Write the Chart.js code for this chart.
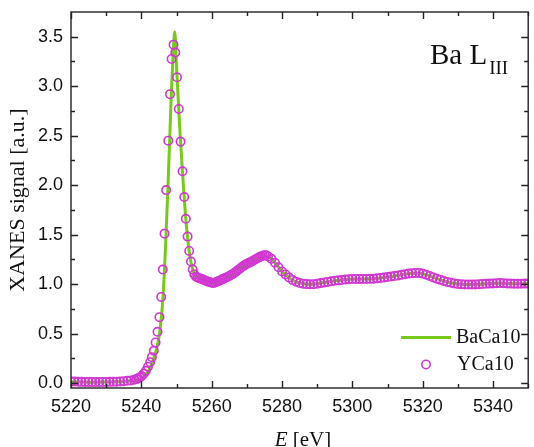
<!DOCTYPE html>
<html>
<head>
<meta charset="utf-8">
<script src="https://cdn.jsdelivr.net/npm/chart.js@4.4.0/dist/chart.umd.min.js"></script>
<style>
html, body { margin: 0; padding: 0; background: #fff; overflow: hidden; }
#wrap { position: relative; width: 534px; height: 447px; }
</style>
</head>
<body>
<div id="wrap"><canvas id="chart" width="534" height="447"></canvas></div>
<script>
// YCa10 (open circles)
const energyYCa = [
  5220, 5221, 5222, 5223, 5224, 5225, 5226, 5227, 5228, 5229, 5230, 5231, 5232, 5233, 5234, 5235, 5236,
  5237, 5238, 5238.6, 5239.1, 5239.6, 5240.1, 5240.7, 5241.3, 5241.9, 5242.5, 5243.0, 5243.55, 5244.05,
  5244.6, 5245.15, 5245.65, 5246.1, 5246.6, 5247.05, 5247.65, 5248.15, 5248.6, 5249.15, 5249.65, 5250.15,
  5250.65, 5251.15, 5251.7, 5252.2, 5252.65, 5253.15, 5253.6, 5254.1, 5254.6, 5255.05, 5255.55,
  5256, 5256.5, 5257, 5257.5, 5258, 5258.5, 5259, 5259.5, 5260, 5260.5, 5261, 5261.5, 5262, 5262.5,
  5263, 5263.5, 5264, 5264.5, 5265, 5265.5, 5266, 5266.5, 5267, 5267.5, 5268, 5268.5, 5269, 5269.5,
  5270, 5270.5, 5271, 5271.5, 5272, 5272.5, 5273, 5273.5, 5274, 5274.5, 5275, 5275.5, 5276,
  5277, 5278, 5279, 5280, 5281, 5282, 5283, 5284, 5285, 5286, 5287, 5288, 5289, 5290,
  5291, 5292, 5293, 5294, 5295, 5296, 5297, 5298, 5299, 5300, 5301, 5302, 5303, 5304, 5305,
  5306, 5307, 5308, 5309, 5310, 5311, 5312, 5313, 5314, 5315, 5316, 5317, 5318, 5319, 5320,
  5321, 5322, 5323, 5324, 5325, 5326, 5327, 5328, 5329, 5330, 5331, 5332, 5333, 5334, 5335,
  5336, 5337, 5338, 5339, 5340, 5341, 5342, 5343, 5344, 5345, 5346, 5347, 5348, 5349, 5350
];
const signalYCa = [
  0.016, 0.015, 0.013, 0.012, 0.011, 0.010, 0.010, 0.010, 0.010, 0.011, 0.011, 0.012, 0.013, 0.014, 0.016, 0.019, 0.023,
  0.027, 0.033, 0.040, 0.048, 0.058, 0.071, 0.095, 0.124, 0.165, 0.210, 0.262, 0.326, 0.410,
  0.518, 0.666, 0.870, 1.147, 1.510, 1.950, 2.450, 2.920, 3.275, 3.420, 3.340, 3.090,
  2.770, 2.440, 2.140, 1.880, 1.660, 1.480, 1.335, 1.228, 1.147, 1.100, 1.075,
  1.066, 1.060, 1.054, 1.047, 1.040, 1.032, 1.025, 1.018, 1.013, 1.012, 1.017, 1.025, 1.032, 1.040,
  1.048, 1.056, 1.064, 1.073, 1.082, 1.092, 1.103, 1.115, 1.128, 1.142, 1.156, 1.170, 1.183, 1.195,
  1.205, 1.214, 1.222, 1.231, 1.241, 1.251, 1.261, 1.271, 1.280, 1.287, 1.292, 1.291, 1.280,
  1.255, 1.215, 1.170, 1.128, 1.097, 1.066, 1.042, 1.025, 1.012, 1.004, 1.000, 0.998, 0.999, 1.004,
  1.010, 1.016, 1.022, 1.028, 1.034, 1.038, 1.042, 1.046, 1.049, 1.051, 1.052, 1.052, 1.052, 1.052, 1.053,
  1.055, 1.058, 1.062, 1.066, 1.071, 1.076, 1.082, 1.088, 1.094, 1.100, 1.106, 1.110, 1.113, 1.112, 1.106,
  1.095, 1.082, 1.068, 1.055, 1.043, 1.032, 1.022, 1.014, 1.007, 1.002, 0.999, 0.997, 0.996, 0.996, 0.997,
  0.999, 1.001, 1.003, 1.005, 1.007, 1.009, 1.010, 1.009, 1.007, 1.005, 1.004, 1.004, 1.004, 1.005, 1.005
];

// BaCa10 (green line)
const energyBa = [
  5220, 5221, 5222, 5223, 5224, 5225, 5226, 5227, 5228, 5229, 5230, 5231, 5232, 5233, 5234, 5235, 5236,
  5237, 5238, 5239, 5240, 5240.5, 5241, 5241.5, 5242, 5242.5, 5243, 5243.5, 5244, 5244.5, 5245, 5245.5,
  5246, 5246.5, 5247, 5247.5, 5248, 5248.5, 5249, 5249.5, 5250, 5250.5, 5251, 5251.5, 5252, 5252.5,
  5253, 5253.5, 5254, 5254.5, 5255, 5255.5, 5256, 5257, 5258, 5259, 5260, 5261, 5262, 5263, 5264,
  5265, 5266, 5267, 5268, 5269, 5270, 5271, 5272, 5273, 5274, 5275, 5276, 5277, 5278, 5279, 5280,
  5281, 5282, 5283, 5284, 5285, 5286, 5287, 5288, 5289, 5290, 5291, 5292, 5293, 5294, 5295, 5296,
  5297, 5298, 5299, 5300, 5302, 5304, 5306, 5308, 5310, 5312, 5314, 5316, 5318, 5319, 5320, 5322,
  5324, 5326, 5328, 5330, 5332, 5334, 5336, 5338, 5340, 5342, 5344, 5346, 5348, 5350
];
const signalBa = [
  0.012, 0.011, 0.010, 0.010, 0.009, 0.009, 0.009, 0.009, 0.009, 0.010, 0.010, 0.011, 0.012, 0.013, 0.014, 0.016, 0.018,
  0.020, 0.024, 0.031, 0.045, 0.058, 0.075, 0.097, 0.124, 0.157, 0.197, 0.245, 0.300, 0.370, 0.460, 0.600,
  0.790, 1.080, 1.480, 1.920, 2.400, 2.900, 3.300, 3.550, 3.200, 2.860, 2.530, 2.250, 1.970, 1.720,
  1.520, 1.360, 1.240, 1.160, 1.110, 1.082, 1.066, 1.050, 1.036, 1.022, 1.014, 1.016, 1.030, 1.046, 1.062,
  1.080, 1.102, 1.128, 1.156, 1.182, 1.204, 1.222, 1.240, 1.260, 1.280, 1.290, 1.278, 1.255, 1.215, 1.170, 1.125,
  1.095, 1.065, 1.040, 1.024, 1.012, 1.004, 1.000, 0.998, 1.000, 1.004, 1.010, 1.016, 1.022, 1.028, 1.034, 1.038,
  1.042, 1.046, 1.049, 1.051, 1.052, 1.052, 1.055, 1.062, 1.071, 1.082, 1.094, 1.106, 1.113, 1.112, 1.106, 1.082,
  1.055, 1.032, 1.014, 1.002, 0.997, 0.996, 0.999, 1.003, 1.007, 1.010, 1.007, 1.004, 1.004, 1.005
];

const xTicks = [5220, 5230, 5240, 5250, 5260, 5270, 5280, 5290, 5300, 5310, 5320, 5330, 5340, 5350];
const xMajor = [5220, 5240, 5260, 5280, 5300, 5320, 5340];
const yTicks = [0, 0.25, 0.5, 0.75, 1, 1.25, 1.5, 1.75, 2, 2.25, 2.5, 2.75, 3, 3.25, 3.5];
const yMajor = [0, 0.5, 1, 1.5, 2, 2.5, 3, 3.5];

const GREEN = '#78c81e';
const MAGENTA = '#d236d2';
const INK = '#111';

const toPoints = (xs, ys) => xs.map((x, i) => ({ x: x, y: ys[i] }));

// frame, inward ticks, x title, label and legend
const decor = {
  id: 'decor',
  afterDraw(chart) {
    const { ctx, chartArea: a, scales: { x, y } } = chart;
    ctx.save();
    ctx.strokeStyle = '#222';
    ctx.lineWidth = 1.4;
    ctx.strokeRect(a.left, a.top, a.right - a.left, a.bottom - a.top);
    ctx.beginPath();
    xTicks.forEach(v => {
      const px = Math.round(x.getPixelForValue(v)) + 0.5;
      const len = xMajor.includes(v) ? 7 : 4;
      ctx.moveTo(px, a.bottom); ctx.lineTo(px, a.bottom - len);
      ctx.moveTo(px, a.top); ctx.lineTo(px, a.top + len);
    });
    yTicks.forEach(v => {
      const py = Math.round(y.getPixelForValue(v)) + 0.5;
      const len = yMajor.includes(v) ? 7 : 4;
      ctx.moveTo(a.left, py); ctx.lineTo(a.left + len, py);
      ctx.moveTo(a.right, py); ctx.lineTo(a.right - len, py);
    });
    ctx.stroke();

    ctx.fillStyle = INK;
    ctx.textBaseline = 'alphabetic';
    // x axis title: E [eV]
    ctx.font = 'italic 21px "Liberation Serif"';
    const eW = ctx.measureText('E').width;
    ctx.font = '21px "Liberation Serif"';
    const restW = ctx.measureText(' [eV]').width;
    const tx = 303 - (eW + restW) / 2;
    ctx.font = 'italic 21px "Liberation Serif"';
    ctx.fillText('E', tx, 446);
    ctx.font = '21px "Liberation Serif"';
    ctx.fillText(' [eV]', tx + eW, 446);

    // Ba L_III
    ctx.font = '29px "Liberation Serif"';
    ctx.fillText('Ba L', 430, 64);
    const bw = ctx.measureText('Ba L').width;
    ctx.font = '19px "Liberation Serif"';
    ctx.fillText('III', 430 + bw + 2, 74);

    // legend
    ctx.strokeStyle = GREEN;
    ctx.lineWidth = 3;
    ctx.beginPath();
    ctx.moveTo(401, 337.5); ctx.lineTo(451, 337.5);
    ctx.stroke();
    ctx.strokeStyle = MAGENTA;
    ctx.lineWidth = 1.6;
    ctx.beginPath();
    ctx.arc(426, 364.5, 4.2, 0, Math.PI * 2);
    ctx.stroke();
    ctx.fillStyle = INK;
    ctx.textBaseline = 'middle';
    ctx.font = '20px "Liberation Serif"';
    ctx.fillText('BaCa10', 456, 338);
    ctx.fillText('YCa10', 457, 365);
    ctx.restore();
  }
};

new Chart(document.getElementById('chart'), {
  type: 'scatter',
  data: {
    datasets: [
      {
        label: 'YCa10',
        data: toPoints(energyYCa, signalYCa),
        showLine: false,
        pointStyle: 'circle',
        pointRadius: 4.2,
        pointBorderWidth: 1.6,
        pointBorderColor: MAGENTA,
        pointBackgroundColor: 'rgba(0,0,0,0)',
        order: 0
      },
      {
        label: 'BaCa10',
        data: toPoints(energyBa, signalBa),
        showLine: true,
        borderColor: GREEN,
        borderWidth: 3,
        pointRadius: 0,
        cubicInterpolationMode: 'monotone',
        order: 1
      }
    ]
  },
  options: {
    responsive: false,
    animation: false,
    // right axis (5350) lies just past the edge of the picture
    layout: { padding: { top: 12, right: -2, left: 0, bottom: 0 } },
    plugins: { legend: { display: false }, tooltip: { enabled: false } },
    scales: {
      x: {
        type: 'linear', min: 5220, max: 5350,
        afterBuildTicks: s => { s.ticks = xTicks.map(v => ({ value: v })); },
        afterFit: s => { s.height = 59; s.paddingLeft = 0; s.paddingRight = 0; },
        grid: { display: false, drawTicks: false },
        border: { display: false },
        ticks: {
          autoSkip: false, maxRotation: 0, padding: 8, color: INK,
          font: { family: 'Liberation Sans', size: 18 },
          callback: v => xMajor.includes(v) ? String(v) : ''
        }
      },
      y: {
        min: -0.05, max: 3.75,
        afterBuildTicks: s => { s.ticks = yTicks.map(v => ({ value: v })); },
        afterFit: s => { s.width = 71; s.paddingTop = 0; s.paddingBottom = 0; },
        grid: { display: false, drawTicks: false },
        border: { display: false },
        ticks: {
          autoSkip: false, padding: 8, color: INK,
          font: { family: 'Liberation Sans', size: 18 },
          callback: v => yMajor.includes(v) ? v.toFixed(1) : ''
        },
        title: {
          display: true, text: 'XANES signal [a.u.]', color: INK,
          font: { family: 'Liberation Serif', size: 22 },
          padding: { top: 5, bottom: 0 }
        }
      }
    }
  },
  plugins: [decor]
});
</script>
</body>
</html>
